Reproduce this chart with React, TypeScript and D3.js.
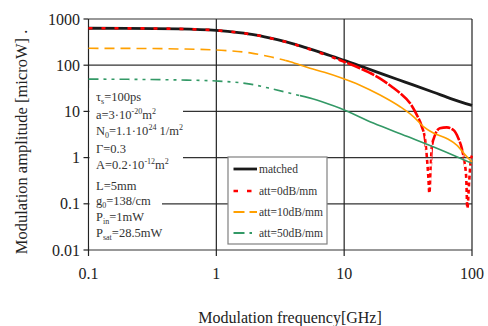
import React from "react";
import * as d3 from "d3";

// ---- data ----
const matchedF = [0.1, 0.2, 0.5, 1, 1.5, 2, 3, 4, 5, 7, 10, 15, 20, 30, 50, 70, 100];
const matchedV = [630, 628, 612, 567, 508, 455, 357, 290, 240, 178, 127, 86, 64, 43, 26, 18.5, 13.5];

const redF = [0.1, 0.2, 0.5, 1, 1.5, 2, 3, 4, 5, 7, 9.3, 13.3, 19, 24, 27.4, 32.8, 37, 40.5, 43, 44.3, 45.5, 46.4, 47.5, 48.5, 51.4, 56, 63.5, 71.6, 78.3, 83.2, 86.7, 90, 92, 95, 98, 100];
const redV = [630, 628, 612, 567, 508, 453, 355, 287, 236, 172, 128, 86, 52, 33, 24.7, 15, 8.4, 4.7, 2.4, 1.05, 0.4, 0.17, 0.6, 1.7, 3.1, 4.3, 4.5, 3.96, 2.6, 1.58, 0.89, 0.39, 0.08, 0.3, 0.9, 1.1];

const orangeF = [0.1, 0.2, 0.5, 1, 1.84, 2.7, 3.78, 5.4, 7, 9.3, 13.3, 19.1, 27.4, 34.8, 41.7, 49.9, 63.5, 76, 91, 100];
const orangeV = [232, 231, 225, 213, 185, 150, 119, 86, 70, 54, 37, 22.6, 12.6, 7.7, 4.7, 3.4, 2.6, 1.87, 1.05, 0.81];

const greenF = [0.1, 0.2, 0.5, 1, 1.84, 2.7, 3.78, 6.1, 9.3, 16.9, 30.9, 56, 100];
const greenV = [50, 49.5, 48, 45.5, 39, 31, 24.7, 17.7, 11.7, 5.6, 2.9, 1.5, 0.75];

const xTicks = [0.1, 1, 10, 100];
const xTickLabels = ["0.1", "1", "10", "100"];
const yTicks = [0.01, 0.1, 1, 10, 100, 1000];
const yTickLabels = ["0.01", "0.1", "1", "10", "100", "1000"];

const seriesNames = ["matched", "att=0dB/mm", "att=10dB/mm", "att=50dB/mm"];

// ---- layout / styles ----
const W = 488, H = 326;
const L = 88.5, R = 472, T = 19, B = 250;
const FONT = "'Liberation Serif', 'Times New Roman', serif";

type Seg = { from: number; to: number; dash?: string };
const styles = [
  { color: "#1a1a1a", width: 2.8, segs: [{ from: 0.1, to: 100 }] as Seg[], legendDash: undefined as string | undefined },
  {
    color: "#ff0000",
    width: 2.6,
    segs: [
      { from: 0.1, to: 9, dash: "4,9" },
      { from: 9, to: 43, dash: "14,1.5" },
      { from: 43, to: 48.5, dash: "4,3" },
      { from: 48.5, to: 86, dash: "14,1.5" },
      { from: 86, to: 100, dash: "4,3" },
    ] as Seg[],
    legendDash: "4.5,9",
  },
  { color: "#ffa000", width: 1.6, segs: [{ from: 0.1, to: 3.5, dash: "10,6" }, { from: 3.5, to: 100 }] as Seg[], legendDash: "11,5" },
  { color: "#339966", width: 1.6, segs: [{ from: 0.1, to: 4.5, dash: "10,5,3,5,3,5" }, { from: 4.5, to: 100 }] as Seg[], legendDash: "11,5,2.5,20" },
];

export default function App() {
  const x = d3.scaleLog().domain([0.1, 100]).range([L, R]);
  const y = d3.scaleLog().domain([0.01, 1000]).range([B, T]);
  const line = d3
    .line<[number, number]>()
    .x((d) => x(d[0]))
    .y((d) => y(d[1]))
    .curve(d3.curveMonotoneX);

  const data: [number, number][][] = [
    matchedF.map((f, i) => [f, matchedV[i]] as [number, number]),
    redF.map((f, i) => [f, redV[i]] as [number, number]),
    orangeF.map((f, i) => [f, orangeV[i]] as [number, number]),
    greenF.map((f, i) => [f, greenV[i]] as [number, number]),
  ];

  const legendY = [169, 191, 212, 233];

  const annoLines: { y: number; parts: React.ReactNode }[] = [
    { y: 101, parts: (<><tspan>τ</tspan><tspan fontSize="8" dy="3">s</tspan><tspan dy="-3">=100ps</tspan></>) },
    { y: 118.5, parts: (<><tspan>a=3·10</tspan><tspan fontSize="8" dy="-5">-20</tspan><tspan dy="5">m</tspan><tspan fontSize="8" dy="-5">2</tspan></>) },
    { y: 134.5, parts: (<><tspan>N</tspan><tspan fontSize="8" dy="3">0</tspan><tspan dy="-3">=1.1·10</tspan><tspan fontSize="8" dy="-5">24</tspan><tspan dy="5"> 1/m</tspan><tspan fontSize="8" dy="-5">2</tspan></>) },
    { y: 153, parts: (<tspan>Γ=0.3</tspan>) },
    { y: 169, parts: (<><tspan>A=0.2·10</tspan><tspan fontSize="8" dy="-5">-12</tspan><tspan dy="5">m</tspan><tspan fontSize="8" dy="-5">2</tspan></>) },
    { y: 189.5, parts: (<tspan>L=5mm</tspan>) },
    { y: 205, parts: (<><tspan>g</tspan><tspan fontSize="8" dy="3">0</tspan><tspan dy="-3">=138/cm</tspan></>) },
    { y: 221, parts: (<><tspan>P</tspan><tspan fontSize="8" dy="3">in</tspan><tspan dy="-3">=1mW</tspan></>) },
    { y: 236.5, parts: (<><tspan>P</tspan><tspan fontSize="8" dy="3">sat</tspan><tspan dy="-3">=28.5mW</tspan></>) },
  ];

  return (
    <svg width={W} height={H} style={{ position: "absolute", left: 0, top: 0, background: "#fff" }} fontFamily={FONT}>
      <defs>
        {styles.map((s, si) =>
          s.segs.map((seg, gi) => (
            <clipPath id={`c${si}_${gi}`} key={`${si}_${gi}`}>
              <rect x={x(seg.from) - (seg.from <= 0.1 ? 3 : 0)} y={0} width={x(seg.to) - x(seg.from) + (seg.to >= 100 ? 3 : 0) + (seg.from <= 0.1 ? 3 : 0)} height={H} />
            </clipPath>
          ))
        )}
      </defs>
      <rect x={0} y={0} width={W} height={H} fill="#fff" />
      {/* grid */}
      {yTicks.map((t) => (
        <line key={"gy" + t} x1={L} x2={R} y1={y(t)} y2={y(t)} stroke="#333" strokeWidth={1.2} />
      ))}
      {xTicks.map((t) => (
        <line key={"gx" + t} x1={x(t)} x2={x(t)} y1={T} y2={B} stroke="#222" strokeWidth={1.2} />
      ))}
      {/* ticks */}
      {yTicks.map((t) => (
        <line key={"ty" + t} x1={L - 5} x2={L} y1={y(t)} y2={y(t)} stroke="#222" strokeWidth={1.2} />
      ))}
      {xTicks.map((t) => (
        <line key={"tx" + t} x1={x(t)} x2={x(t)} y1={B} y2={B + 6} stroke="#222" strokeWidth={1.2} />
      ))}
      {/* annotation background */}
      <rect x={L + 1} y={88} width={183 - L - 1} height={92} fill="#fff" />
      <rect x={L + 1} y={180} width={162 - L - 1} height={66} fill="#fff" />
      {/* series */}
      {styles.map((s, si) =>
        s.segs.map((seg, gi) => (
          <path
            key={`p${si}_${gi}`}
            d={line(data[si]) || ""}
            fill="none"
            stroke={s.color}
            strokeWidth={s.width}
            strokeDasharray={seg.dash}
            clipPath={`url(#c${si}_${gi})`}
          />
        ))
      )}
      {/* annotation text */}
      {annoLines.map((a, i) => (
        <text key={"a" + i} x={96} y={a.y} fontSize={12.5} fill="#333">
          {a.parts}
        </text>
      ))}
      {/* legend */}
      <rect x={228} y={157} width={99} height={87} fill="#fff" stroke="#808080" strokeWidth={1.2} />
      {seriesNames.map((n, i) => (
        <g key={"l" + i}>
          <line x1={233.5} x2={257} y1={legendY[i]} y2={legendY[i]} stroke={styles[i].color} strokeWidth={i === 0 ? 2.8 : i === 1 ? 2.5 : 1.8} strokeDasharray={styles[i].legendDash} />
          <text x={259} y={legendY[i] + 4} fontSize={11.5} fill="#333">{n}</text>
        </g>
      ))}
      {/* tick labels */}
      {yTicks.map((t, i) => (
        <text key={"yl" + t} x={80} y={y(t)} fontSize={16} textAnchor="end" dominantBaseline="central" fill="#222">
          {yTickLabels[i]}
        </text>
      ))}
      {xTicks.map((t, i) => (
        <text key={"xl" + t} x={x(t)} y={273} fontSize={16} textAnchor="middle" dominantBaseline="central" fill="#222">
          {xTickLabels[i]}
        </text>
      ))}
      {/* axis titles */}
      <text x={290} y={323} fontSize={16} textAnchor="middle" fill="#222">Modulation frequency[GHz]</text>
      <text transform={`translate(27,142) rotate(-90)`} fontSize={16.5} textAnchor="middle" fill="#222">Modulation amplitude [microW] .</text>
    </svg>
  );
}
